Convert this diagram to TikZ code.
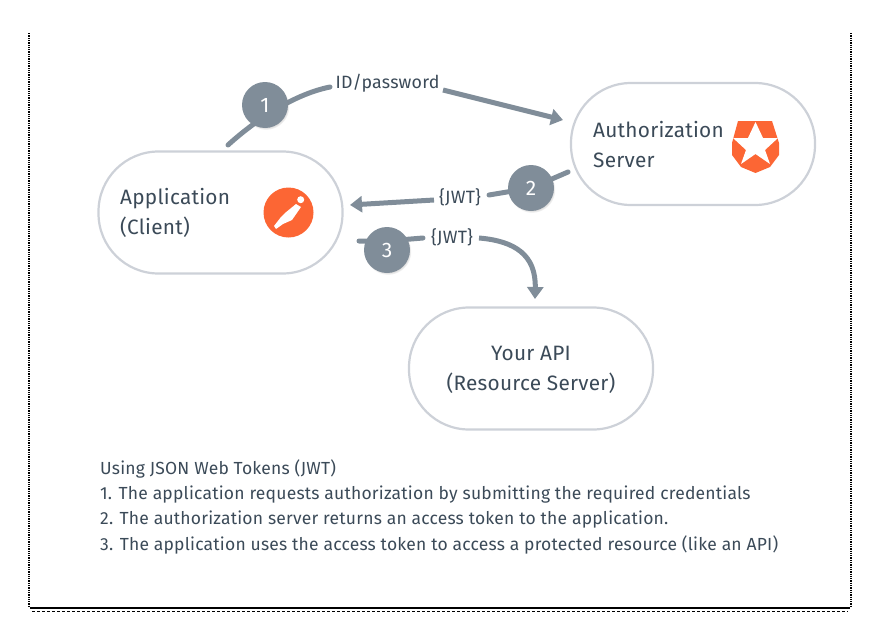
\documentclass[tikz,border=0pt]{standalone}
\usepackage{fontspec}
\setmainfont[LetterSpace=1.2]{Fira Sans}
\usetikzlibrary{shapes}
\usetikzlibrary{arrows.meta}
\usetikzlibrary{positioning}
\usetikzlibrary{shadows}
\definecolor{ink}{HTML}{3B4A58}
\definecolor{slate}{HTML}{808D99}
\definecolor{pillgray}{HTML}{CDD1D8}
\definecolor{logo}{HTML}{FC6634}
\begin{document}
\begin{tikzpicture}[x=1pt,y=-1pt]
\tikzstyle{pill}=[draw=pillgray,line width=2.2pt,rectangle,rounded corners=60pt,
minimum width=244pt,minimum height=122pt,fill=white]
\tikzstyle{titre}=[text=ink,font=\fontsize{20.8}{30}\selectfont,inner sep=0pt]
\tikzstyle{badge}=[circle,fill=slate,text=white,minimum size=46pt,inner sep=0pt,
font=\fontsize{21}{24}\selectfont,circular drop shadow={shadow xshift=1pt,shadow yshift=-1.5pt,shadow scale=1.02,opacity=.35}]
\tikzstyle{etiquette}=[text=ink,font=\fontsize{17.8}{20}\selectfont,inner sep=0pt]
\tikzstyle{ligne}=[text=ink,font=\fontsize{17.5}{20}\selectfont,inner sep=0pt,anchor=base west]
\tikzstyle{suite}=[draw=slate,line width=5pt,line cap=round,-]
\tikzstyle{fleche}=[draw=slate,line width=5pt,-{Triangle[length=12pt,width=16pt]}]
\useasboundingbox (0,0) rectangle (880,637);
%frame
\draw[line width=1.3pt,densely dotted] (29,33) -- (29,606);
\draw[line width=1.3pt,densely dotted] (851,33) -- (851,606);
\draw[line width=2.6pt] (30,608) -- (850,608);
\draw[line width=1pt,densely dashed] (32,611) -- (848,611);
%placement of nodes
\node[pill] (client) at (220.5,212.5) {};
\node[pill] (authserver) at (693,144) {};
\node[pill] (api) at (531,368.5) {};
\node[titre,align=left,anchor=west] (clienttext) at (120,213) {Application\\(Client)};
\node[titre,align=left,anchor=west] (authtext) at (593,144.5) {Authorization\\Server};
\node[titre,align=center] (apitext) at (531,369.5) {Your API\\(Resource Server)};
\node[circle,fill=logo,minimum size=50pt,inner sep=0pt] (postman) at (288.5,212.5) {};
\node[etiquette] (idpass) at (387.5,83) {ID/password};
\node[etiquette] (jwta) at (460,197) {\{JWT\}};
\node[etiquette] (jwtb) at (452,237) {\{JWT\}};
\coordinate (starta) at (228,145);
\coordinate (tipa) at (563,120);
\coordinate (startb) at (568,172);
\coordinate (tipb) at (350,205);
\coordinate (startc) at (359,241);
\coordinate (tipc) at (535,299);
%arrows
\draw[suite] (starta) .. controls (250,125) and (290,95) .. (330,87);
\draw[fleche] (443,90) -- (tipa);
\draw[suite] (startb) -- (531,188) -- (489,195);
\draw[fleche] (434,200) -- (tipb);
\draw[suite] (startc) -- (387,241) -- (423,238);
\draw[fleche] (479,238) .. controls (515,241) and (536,255) .. (tipc);
%badges on top of the arrows
\node[badge] (one) at (265,105) {1};
\node[badge] (two) at (531,188) {2};
\node[badge] (three) at (387,250) {3};
%icons
\fill[logo] (738,121) -- (772,121) -- (779,143) -- (779,155) -- (770,167) -- (755.5,173) -- (741,167) -- (732,155) -- (732,143) -- cycle;
\fill[white] (755.5,122) -- (763,138) -- (778,138) -- (765,150) -- (770,164) -- (755.5,154) -- (741,164) -- (746,150) -- (733,138) -- (748,138) -- cycle;
\fill[white] (300.7,199.7) circle (3.5pt);
\fill[white] (296,204) -- (301,207) -- (292,220) -- (283,224) -- (276,229) -- (274,226) -- (281,217) -- (285,213) -- cycle;
%text below
\node[ligne] (intro) at (100,474) {Using JSON Web Tokens (JWT)};
\node[ligne] (stepa) at (100,499.5) {1. The application requests authorization by submitting the required credentials};
\node[ligne] (stepb) at (100,524.5) {2. The authorization server returns an access token to the application.};
\node[ligne] (stepc) at (100,550) {3. The application uses the access token to access a protected resource (like an API)};
\end{tikzpicture}
\end{document}
